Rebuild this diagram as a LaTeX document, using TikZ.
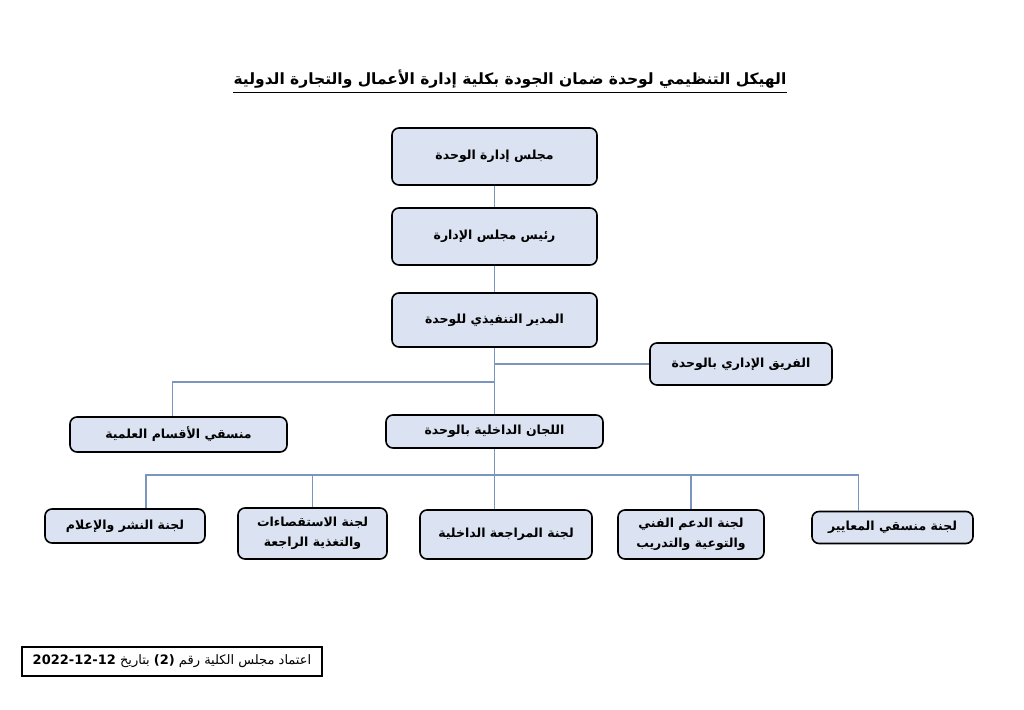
\documentclass[tikz,border=0pt]{standalone}
\usepackage{fontspec}
\newfontfamily\arabicfont[Script=Arabic]{DejaVu Sans}
\TeXXeTstate=1
\usepackage{tikz}
\definecolor{boxfill}{RGB}{219,226,241}
\definecolor{linkblue}{RGB}{122,150,190}
\newcommand{\ar}[1]{\beginR #1\endR}

\begin{document}
\begin{tikzpicture}[x=1pt,y=-1pt,every node/.style={font=\arabicfont\bfseries\fontsize{12.5}{20.5}\selectfont},
 unit/.style={draw,line width=1.6pt,fill=boxfill,rounded corners=7pt,align=center,inner sep=2pt},
 link/.style={draw=linkblue,line width=1.2pt}]
\useasboundingbox (0,0) rectangle (1024,709);
% title
\node[font=\arabicfont\bfseries\fontsize{15.5}{18}\selectfont,inner sep=0pt] (title) at (510,79) {\ar{الهيكل التنظيمي لوحدة ضمان الجودة بكلية إدارة الأعمال والتجارة الدولية}};
\draw[line width=1.3pt] ([yshift=-4pt]title.south west)--([yshift=-4pt]title.south east);
% top of the chart
\node[unit,minimum width=205pt,minimum height=57pt] (board) at (494.5,156.5) {\ar{مجلس إدارة الوحدة}};
\node[unit,minimum width=205pt,minimum height=57pt] (chair) at (494.5,236.5) {\ar{رئيس مجلس الإدارة}};
\node[unit,minimum width=205pt,minimum height=54pt] (exec) at (494.5,320) {\ar{المدير التنفيذي للوحدة}};
\node[unit,minimum width=182pt,minimum height=42pt] (team) at (741,364) {\ar{الفريق الإداري بالوحدة}};
\node[unit,minimum width=217pt,minimum height=35pt] (coord) at (178.5,434.5) {\ar{منسقي الأقسام العلمية}};
\node[unit,minimum width=217pt,minimum height=33pt] (comm) at (494.5,431.5) {\ar{اللجان الداخلية بالوحدة}};
% committees
\node[unit,minimum width=160pt,minimum height=34pt] (media) at (125,526) {\ar{لجنة النشر والإعلام}};
\node[unit,minimum width=149pt,minimum height=51pt] (survey) at (312.5,533.5) {\ar{لجنة الاستقصاءات}\\\ar{والتغذية الراجعة}};
\node[unit,minimum width=172pt,minimum height=49pt] (audit) at (506,534.5) {\ar{لجنة المراجعة الداخلية}};
\node[unit,minimum width=146pt,minimum height=49pt] (support) at (691,534.5) {\ar{لجنة الدعم الفني}\\\ar{والتوعية والتدريب}};
\node[unit,minimum width=161pt,minimum height=32pt] (standards) at (892.5,527.5) {\ar{لجنة منسقي المعايير}};
\coordinate (jcoord) at (494.5,382);\coordinate (bus) at (494.5,475);
\draw[link] (board)--(chair) (chair)--(exec) (exec)--(comm);
\draw[link] (exec.south |- team.west)--(team.west);\draw[link] (jcoord) -| ([xshift=-6pt]coord.north);
\draw[link] (comm)--(bus);\draw[link] ([xshift=21pt]media.north) |- (bus) -| ([xshift=-34pt]standards.north);
\draw[link] (survey.north)--(survey.north |- bus);\draw[link] (bus)--(bus |- audit.north);\draw[link] (support.north)--(support.north |- bus);
% approval note
\node[draw,line width=1.3pt,minimum width=300pt,minimum height=29pt,font=\arabicfont\fontsize{13}{15}\selectfont] (approval) at (172,661.5) {\ar{اعتماد مجلس الكلية رقم \beginL\textbf{(2)}\endL{} بتاريخ \beginL\textbf{2022-12-12}\endL}};
\end{tikzpicture}
\end{document}
